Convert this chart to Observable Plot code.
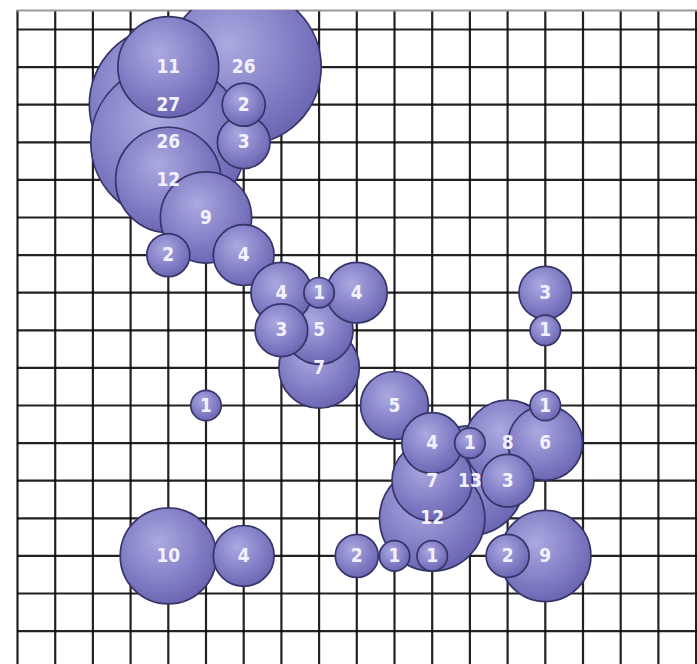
<!DOCTYPE html>
<html>
<head>
<meta charset="utf-8">
<script src="https://cdn.jsdelivr.net/npm/d3@7"></script>
<script src="https://cdn.jsdelivr.net/npm/@observablehq/plot@0.6"></script>
<style>
  html, body { margin: 0; padding: 0; background: #fff; }
  #chart svg { display: block; }
</style>
</head>
<body>
<div id="chart"></div>
<script>
// Bubble grid positions (column, row) and the value shown in each bubble
const cols   = [6, 4, 6, 4, 6, 4, 4, 5, 4, 6, 7, 8, 9, 7, 8, 8, 5, 10, 11, 12, 13, 14, 14, 14, 14, 11, 12, 13, 11, 9, 10, 11, 13, 14, 4, 6];
const rows   = [1, 1, 2, 2, 3, 3, 4, 5, 6, 6, 7, 7, 7, 8, 8, 9, 10, 10, 11, 11, 11, 11, 10, 7, 8, 12, 12, 12, 13, 14, 14, 14, 14, 14, 14, 14];
const values = [26, 11, 2, 27, 3, 26, 12, 9, 2, 4, 4, 1, 4, 3, 5, 7, 1, 5, 4, 1, 8, 6, 1, 3, 1, 7, 13, 3, 12, 2, 1, 1, 2, 9, 10, 4];

// Grid line positions
const gridCols = d3.range(0, 19);
const gridRows = d3.range(0, 17);

const data = values.map((v, i) => ({col: cols[i], row: rows[i], value: v}));

const W = 697, H = 664;
const cell = 37.7, cellY = 37.6;

const defs = () => {
  const d = d3.create("svg:defs");
  const g = d.append("radialGradient").attr("id", "bub")
    .attr("cx", "0.42").attr("cy", "0.38").attr("r", "0.68").attr("fx", "0.4").attr("fy", "0.35");
  g.append("stop").attr("offset", "0%").attr("stop-color", "#aba9e0");
  g.append("stop").attr("offset", "55%").attr("stop-color", "#8582c8");
  g.append("stop").attr("offset", "100%").attr("stop-color", "#6661ae");
  return d.node();
};

const chart = Plot.plot({
  width: W,
  height: H,
  marginLeft: 17,
  marginRight: 0,
  marginTop: 10,
  marginBottom: 0,
  x: {domain: [0, (W - 17) / cell], axis: null},
  y: {domain: [(10 - 29) / cellY, (H - 29) / cellY], reverse: true, axis: null},
  r: {type: "sqrt", domain: [0, 27], range: [0, 15.2 * Math.sqrt(27)]},
  style: {background: "#fff"},
  marks: [
    defs,
    Plot.ruleX(gridCols, {stroke: "#0a0a0a", strokeWidth: 2.2, strokeOpacity: 0.9}),
    Plot.ruleY(gridRows, {stroke: "#0a0a0a", strokeWidth: 2.2, strokeOpacity: 0.9}),
    Plot.frame({anchor: "top", stroke: "#999", strokeWidth: 2}),
    Plot.dot(data, {
      x: "col", y: "row", r: "value",
      fill: "url(#bub)", stroke: "#363469", strokeWidth: 1.7,
      clip: "frame"
    }),
    Plot.text(data, {
      x: "col", y: "row", text: d => String(d.value),
      fill: "#f2f1ff", fontSize: 19, fontWeight: "bold",
      fontFamily: "'DejaVu Sans Condensed', sans-serif"
    })
  ]
});

document.getElementById("chart").appendChild(chart);
</script>
</body>
</html>
